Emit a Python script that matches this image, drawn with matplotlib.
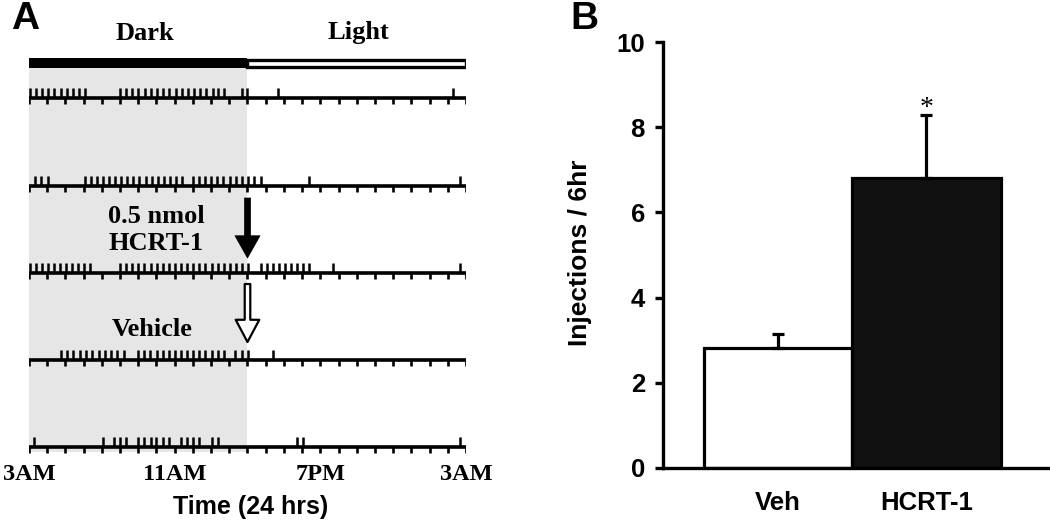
import numpy as np
import matplotlib
matplotlib.use('Agg')
import matplotlib.pyplot as plt
from matplotlib.patches import Rectangle

# ---------------- data ----------------
# Panel A: self-administration event times (hours after 3AM) per row
row1 = [0.05, 0.39, 0.72, 1.06, 1.39, 1.73, 2.06, 2.40, 2.73, 3.07,
        5.0, 5.34, 5.68, 6.0, 6.35, 6.7, 7.03, 7.37, 7.7, 8.05, 8.4, 8.72,
        9.06, 9.4, 9.74, 10.08, 10.4, 10.7, 11.68, 12.0, 13.65, 23.3]
row2 = [0.33, 0.68, 1.03,
        3.05, 3.38, 3.72, 4.05, 4.39, 4.72, 5.06, 5.39, 5.73, 6.06, 6.40,
        6.73, 7.07, 7.40, 7.74, 8.07, 8.40,
        8.98, 9.32, 9.66, 10.0, 10.34, 10.68, 11.02, 11.36, 11.70, 12.04,
        12.38, 12.72, 15.4, 23.67]
row3 = [0.05, 0.38, 0.71, 1.04, 1.37, 1.70, 2.03, 2.36, 2.69, 3.02, 3.35,
        5.0, 5.34, 5.67, 6.01, 6.34, 6.68, 7.01, 7.35, 7.68, 8.02, 8.35,
        8.69, 9.02, 9.36, 9.69, 10.03, 10.36, 10.70, 11.03, 11.37, 11.70,
        12.04,
        12.72, 13.06, 13.39, 13.73, 14.06, 14.40, 14.73, 15.07, 15.4,
        16.7, 23.67]
row4 = [1.75, 2.1, 2.44, 2.79, 3.13, 3.48, 3.82, 4.17, 4.51, 4.86, 5.2,
        6.0, 6.34, 6.67, 7.01, 7.34, 7.68, 8.01, 8.35, 8.69, 9.02, 9.36,
        9.69, 10.03, 10.36, 10.7,
        11.31, 11.68, 12.04, 13.42]
row5 = [0.3, 4.05, 4.67, 5.0, 5.33, 6.0, 6.33, 6.68, 7.0, 7.34, 7.69,
        8.35, 8.69, 9.02, 9.35, 10.03, 10.36, 14.73, 15.06, 23.67]
event_rows = [row1, row2, row3, row4, row5]

time_tick_hours = [0, 8, 16, 24]
time_tick_labels = ['3AM', '11AM', '7PM', '3AM']
dark_period = [0, 12]
light_period = [12, 24]
injection_hour = 12

# Panel B
categories = ['Veh', 'HCRT-1']
means = [2.82, 6.82]
sems = [0.32, 1.46]

# ---------------- layout ----------------
W, H = 1050, 529
fig = plt.figure(figsize=(W / 100, H / 100), dpi=100)

def fx(x):
    return x / W

def fy(y):
    return 1 - y / H

SERIF = 'Liberation Serif'
SANS = 'Liberation Sans'

# ---- Panel A ----
axA = fig.add_axes([29 / W, 0, 437 / W, 1])
axA.set_xlim(0, 24)
axA.set_ylim(H, 0)
axA.axis('off')

# shading for dark period
axA.add_patch(Rectangle((dark_period[0], 67), dark_period[1] - dark_period[0], 385,
                        facecolor='#e6e6e6', edgecolor='none', zorder=0))
# dark / light bar
axA.add_patch(Rectangle((dark_period[0], 58), dark_period[1] - dark_period[0], 10,
                        facecolor='black', edgecolor='none', zorder=2))
axA.add_patch(Rectangle((light_period[0], 59.5), light_period[1] - light_period[0], 7,
                        facecolor='white', edgecolor='black', linewidth=2.4, zorder=2))

baselines = [98, 186, 273, 360, 447]
hour_ticks = np.arange(0, 25)
for base, ev in zip(baselines, event_rows):
    axA.hlines(base, 0, 24, color='black', linewidth=2.6, zorder=3,
               capstyle='butt')
    axA.vlines(ev, base - 10.5, base, color='black', linewidth=1.8, zorder=3)
    axA.vlines(hour_ticks, base, base + 5.5, color='black', linewidth=1.9, zorder=3)

# arrows
axA.annotate('', xy=(injection_hour, 258), xytext=(injection_hour, 198),
             arrowprops=dict(arrowstyle='simple,head_length=0.8,head_width=0.9,tail_width=0.22',
                             mutation_scale=20, fc='black', ec='black', lw=0.5,
                             shrinkA=0, shrinkB=0), zorder=4)
axA.annotate('', xy=(injection_hour, 342), xytext=(injection_hour, 284),
             arrowprops=dict(arrowstyle='simple,head_length=0.8,head_width=0.85,tail_width=0.2',
                             mutation_scale=20, fc='white', ec='black', lw=1.6,
                             shrinkA=0, shrinkB=0), zorder=4)

for h, lab in zip(time_tick_hours, time_tick_labels):
    axA.text(h, 474, lab, ha='center', va='center', fontsize=17.5,
             fontweight='bold', family=SERIF, clip_on=False)

fig.text(fx(145), fy(33), 'Dark', ha='center', va='center', fontsize=19,
         fontweight='bold', family=SERIF)
fig.text(fx(358), fy(33), 'Light', ha='center', va='center', fontsize=19,
         fontweight='bold', family=SERIF)
fig.text(fx(156), fy(217), '0.5 nmol', ha='center', va='center', fontsize=19,
         fontweight='bold', family=SERIF)
fig.text(fx(156), fy(244), 'HCRT-1', ha='center', va='center', fontsize=19,
         fontweight='bold', family=SERIF)
fig.text(fx(152), fy(330), 'Vehicle', ha='center', va='center', fontsize=19,
         fontweight='bold', family=SERIF)
fig.text(fx(251), fy(507), 'Time (24 hrs)', ha='center', va='center', fontsize=18,
         fontweight='bold', family=SANS)
fig.text(fx(25), fy(19), 'A', ha='center', va='center', fontsize=28,
         fontweight='bold', family=SANS)
fig.text(fx(584), fy(19), 'B', ha='center', va='center', fontsize=28,
         fontweight='bold', family=SANS)

# ---- Panel B ----
y0, y10 = 467.7, 42.3
axB = fig.add_axes([663 / W, fy(y0), (1048 - 663) / W, (y0 - y10) / H])
x = np.arange(len(categories))
axB.bar(x, means, width=1.0, color=['white', '#111111'], edgecolor='black',
        linewidth=2.3, zorder=2)
axB.errorbar(x, means, yerr=[[0] * len(sems), sems], fmt='none', ecolor='black',
             elinewidth=2.3, capsize=4.5, capthick=2.3, zorder=3)
axB.text(x[1], means[1] + sems[1] + 0.02, '*', ha='center', va='baseline',
         fontsize=20, family=SERIF)
axB.set_xlim(-0.777, 1.82)
axB.set_ylim(0, 10)
for s in ['top', 'right']:
    axB.spines[s].set_visible(False)
for s in ['left', 'bottom']:
    axB.spines[s].set_linewidth(2.4)
axB.set_yticks(np.arange(0, 11, 2))
axB.set_xticks(x)
axB.set_xticklabels(categories)
axB.tick_params(axis='y', direction='out', length=6, width=2.4, pad=7)
axB.tick_params(axis='x', length=0, pad=17)
for lab in axB.get_xticklabels() + axB.get_yticklabels():
    lab.set_fontfamily(SANS)
    lab.set_fontweight('bold')
    lab.set_fontsize(18.5)

fig.text(fx(580), fy(253), 'Injections / 6hr', rotation=90, ha='center',
         va='center', fontsize=19, fontweight='bold', family=SANS)

fig.savefig('out.png', dpi=100)
